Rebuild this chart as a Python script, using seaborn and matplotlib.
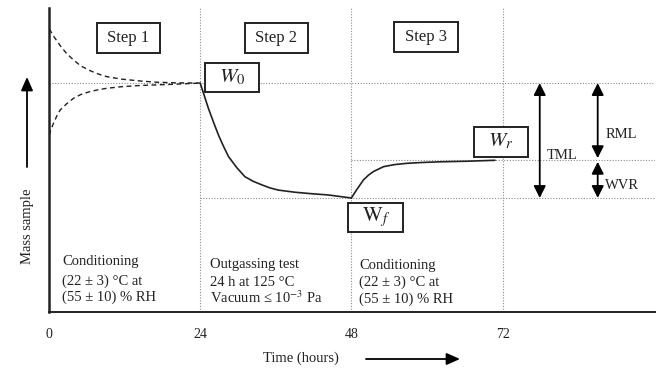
import matplotlib
matplotlib.use("Agg")
import matplotlib.pyplot as plt
from matplotlib.patches import Rectangle
import seaborn as sns

# --- data (time in hours, sample mass in arbitrary units) ---
hour_ticks = [0, 24, 48, 72]
hour_labels = ["0", "24", "48", "72"]

# step 1: conditioning, a wet sample drying and a dry sample taking up water
t_cond_hi = [0.05, 0.8, 1.75, 2.8, 3.9, 5.0, 6.5, 7.8, 9.2, 11.5, 14.4, 17.0, 19.7, 24.0]
m_cond_hi = [93.1, 90.5, 87.7, 85.0, 82.9, 81.0, 79.4, 78.3, 77.4, 76.6, 76.0, 75.6, 75.4, 75.3]
t_cond_lo = [0.05, 0.3, 0.7, 1.2, 1.75, 2.8, 3.9, 5.0, 6.5, 7.8, 9.2, 11.5, 14.4, 17.0, 19.7, 24.0]
m_cond_lo = [58.2, 60.0, 62.0, 64.3, 66.4, 68.5, 70.3, 71.5, 72.5, 73.1, 73.6, 74.1, 74.5, 74.7, 74.9, 75.3]

# step 2: outgassing under vacuum
t_outgas = [24.0, 25.3, 26.1, 26.9, 27.7, 28.5, 29.8, 31.1, 32.4, 33.8, 35.1, 36.4, 39.0, 41.7, 44.3, 48.0]
m_outgas = [75.3, 67.0, 62.5, 58.2, 54.5, 51.1, 47.5, 44.5, 43.0, 41.8, 40.8, 40.1, 39.4, 38.9, 38.5, 37.5]

# step 3: reconditioning, water vapour regained
t_regain = [48.0, 48.8, 49.9, 50.7, 51.5, 53.1, 54.9, 56.8, 59.4, 62.1, 66.4, 70.8]
m_regain = [37.5, 40.1, 43.4, 45.0, 46.2, 47.8, 48.5, 48.9, 49.2, 49.4, 49.6, 49.9]

W0 = 75.3   # mass after step 1
Wf = 37.5   # mass after outgassing
Wr = 50.0   # mass after reconditioning

sns.set_style("white")
plt.rcParams["font.family"] = ["Liberation Serif", "DejaVu Serif"]
plt.rcParams["mathtext.fontset"] = "stix"

fig = plt.figure(figsize=(6.57, 3.68), dpi=100)
ax = fig.add_axes([0.0746, 0.1522, 0.9224, 0.8261])
ax.set_xlim(0, 96.2)
ax.set_ylim(0, 100)

ink = "#222222"
dot = dict(color="#8c8c8c", lw=0.8, ls=(0, (1, 1.5)), zorder=1)

# reference levels and step boundaries
ax.axhline(W0, **dot)
ax.plot([24, 96.2], [Wf, Wf], **dot)
ax.plot([48, 96.2], [Wr, Wr], **dot)
for h in hour_ticks[1:]:
    ax.axvline(h, **dot)

# mass curves
sns.lineplot(x=t_cond_hi, y=m_cond_hi, ax=ax, color=ink, lw=1.0,
             linestyle=(0, (3.5, 2.5)), zorder=3)
sns.lineplot(x=t_cond_lo, y=m_cond_lo, ax=ax, color=ink, lw=1.0,
             linestyle=(0, (3.5, 2.5)), zorder=3)
sns.lineplot(x=t_outgas, y=m_outgas, ax=ax, color=ink, lw=1.2, zorder=3)
sns.lineplot(x=t_regain, y=m_regain, ax=ax, color=ink, lw=1.2, zorder=3)

# axes styling
sns.despine(ax=ax)
ax.spines["left"].set_linewidth(1.8)
ax.spines["left"].set_color(ink)
ax.spines["bottom"].set_linewidth(1.4)
ax.spines["bottom"].set_color(ink)
ax.set_xticks(hour_ticks)
ax.set_xticklabels(hour_labels, fontsize=10)
ax.set_yticks([])
ax.tick_params(axis="x", length=0, pad=11.5, colors=ink)
ax.set_xlabel("")
ax.set_ylabel("")


def boxed(x0, x1, y0, y1, label, size, dy=0.0):
    ax.add_patch(Rectangle((x0, y0), x1 - x0, y1 - y0, facecolor="white",
                           edgecolor=ink, lw=1.4, zorder=5))
    ax.text((x0 + x1) / 2, (y0 + y1) / 2 + dy, label, fontsize=size,
            ha="center", va="center", color=ink, zorder=6)


boxed(7.6, 17.6, 85.2, 95.1, "Step 1", 12)
boxed(31.1, 41.1, 85.2, 95.1, "Step 2", 12)
boxed(54.8, 64.9, 85.5, 95.4, "Step 3", 12)
boxed(24.8, 33.3, 72.4, 81.9, r"$W_{\mathit{0}}$", 15)
boxed(67.5, 76.0, 51.0, 60.9, r"$W_{r}$", 15)
boxed(47.5, 56.2, 26.3, 35.9, r"$\mathrm{W}_{f}$", 15)

# TML, RML and WVR
arrow = dict(arrowstyle="<|-|>,head_length=0.4,head_width=0.2", color="black",
             lw=1.3, mutation_scale=18, shrinkA=0, shrinkB=0)
ax.annotate("", xy=(77.9, W0), xytext=(77.9, Wf), arrowprops=arrow, zorder=4)
ax.annotate("", xy=(87.1, W0), xytext=(87.1, Wr + 0.6), arrowprops=arrow, zorder=4)
ax.annotate("", xy=(87.1, Wr - 0.6), xytext=(87.1, Wf), arrowprops=arrow, zorder=4)
ax.text(79.0, 51.6, "TML", fontsize=10.5, ha="left", va="center", color=ink)
ax.text(88.3, 58.5, "RML", fontsize=10.5, ha="left", va="center", color=ink)
ax.text(88.3, 41.5, "WVR", fontsize=10.5, ha="left", va="center", color=ink)

# test conditions for each step
cond_size = 10.5
step1_lines = ["Conditioning", "(22 ± 3) °C at", "(55 ± 10) % RH"]
step2_lines = ["Outgassing test", "24 h at 125 °C", r"Vacuum ≤ 10$^{-3}$ Pa"]
step3_lines = ["Conditioning", "(22 ± 3) °C at", "(55 ± 10) % RH"]
for x, ys, lines in [(2.1, [15.5, 8.9, 3.6], step1_lines),
                     (25.6, [14.5, 8.6, 2.9], step2_lines),
                     (49.2, [14.1, 8.6, 3.0], step3_lines)]:
    for y, s in zip(ys, lines):
        ax.text(x, y, s, fontsize=cond_size, ha="left", va="baseline", color=ink)

# axis titles with direction arrows
fig.text(27 / 657, 1 - 226 / 368, "Mass sample", rotation=90, fontsize=10.5,
         ha="center", va="center", color=ink)
fig.text(301 / 657, 1 - 358 / 368, "Time (hours)", fontsize=10.5,
         ha="center", va="center", color=ink)
big = dict(arrowstyle="-|>,head_length=0.45,head_width=0.2", color="black",
           lw=1.3, mutation_scale=18, shrinkA=0, shrinkB=0)
ax.annotate("", xy=(27, 368 - 77), xytext=(27, 368 - 167),
            xycoords="figure pixels", textcoords="figure pixels",
            arrowprops=big, annotation_clip=False)
ax.annotate("", xy=(460, 368 - 359), xytext=(366, 368 - 359),
            xycoords="figure pixels", textcoords="figure pixels",
            arrowprops=big, annotation_clip=False)

fig.savefig("out.png", dpi=100)
